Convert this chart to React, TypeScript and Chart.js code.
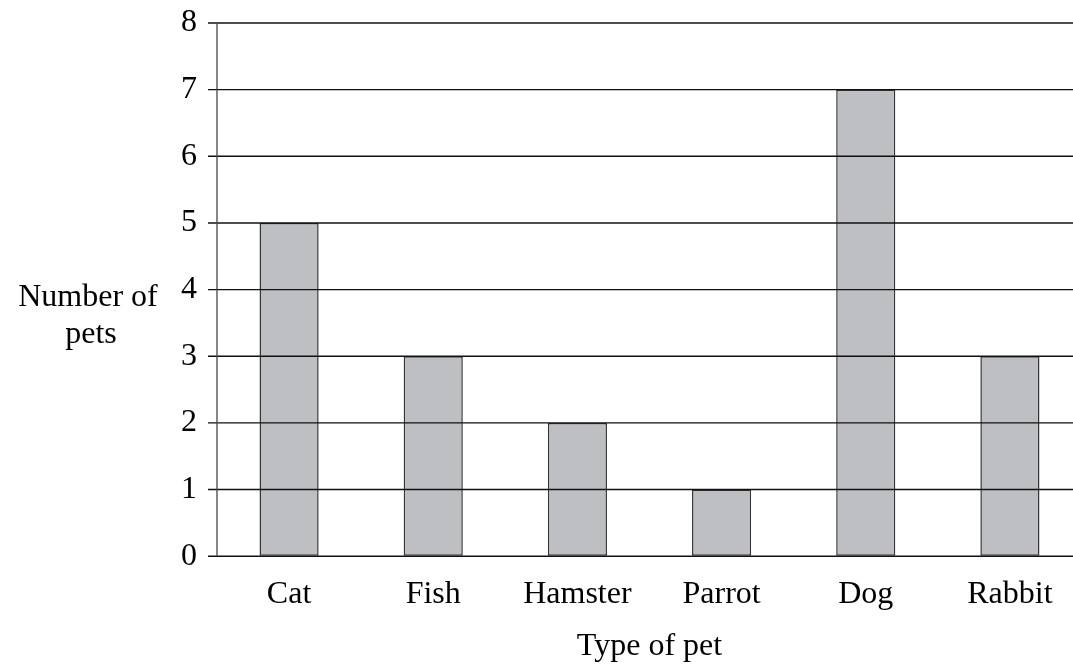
import React, { useEffect, useRef } from "react";
import { Chart, registerables } from "chart.js";

Chart.register(...registerables);

const categories = ["Cat", "Fish", "Hamster", "Parrot", "Dog", "Rabbit"];
const petCounts = [5, 3, 2, 1, 7, 3];
const yTickValues = [0, 1, 2, 3, 4, 5, 6, 7, 8];
const yTitleLines = ["Number of", "pets"];
const xTitle = "Type of pet";

const FONT = "'Liberation Serif', 'Times New Roman', serif";

const yTitlePlugin = {
  id: "yTitleLeft",
  afterDraw(chart: any) {
    const { ctx, chartArea } = chart;
    const y = chart.scales.y;
    ctx.save();
    ctx.font = `32px ${FONT}`;
    ctx.fillStyle = "#000";
    ctx.textAlign = "center";
    ctx.textBaseline = "alphabetic";
    const cx = chartArea.left - 129;
    const base = y.getPixelForValue(4);
    ctx.fillText(yTitleLines[0], cx, base + 16);
    ctx.fillText(yTitleLines[1], cx + 3, base + 53);
    ctx.restore();
  },
};

// Gridlines (with outside ticks) drawn over the bars, from the y scale's own ticks
const gridOverPlugin = {
  id: "gridOver",
  afterDatasetsDraw(chart: any) {
    const { ctx, chartArea } = chart;
    const y = chart.scales.y;
    ctx.save();
    ctx.strokeStyle = "#111";
    ctx.lineWidth = 1.4;
    y.ticks.forEach((_t: any, i: number) => {
      const py = y.getPixelForTick(i);
      ctx.beginPath();
      ctx.moveTo(chartArea.left - 9, py);
      ctx.lineTo(chartArea.right, py);
      ctx.stroke();
    });
    ctx.strokeStyle = "#444";
    ctx.lineWidth = 1.3;
    ctx.beginPath();
    ctx.moveTo(chartArea.left, chartArea.top);
    ctx.lineTo(chartArea.left, chartArea.bottom);
    ctx.stroke();
    ctx.restore();
  },
};

export default function App() {
  const ref = useRef<HTMLCanvasElement | null>(null);
  useEffect(() => {
    if (!ref.current) return;
    const chart = new Chart(ref.current, {
      type: "bar",
      data: {
        labels: categories,
        datasets: [
          {
            data: petCounts,
            backgroundColor: "#bebfc3",
            borderColor: "#333",
            borderWidth: 1.5,
            borderSkipped: false,
            categoryPercentage: 1,
            barPercentage: 0.41,
          },
        ],
      },
      options: {
        responsive: false,
        animation: false,
        devicePixelRatio: 1,
        layout: { padding: { left: 170, right: 8, top: 0, bottom: 0 } },
        plugins: {
          legend: { display: false },
          tooltip: { enabled: false },
          title: { display: false },
        },
        scales: {
          x: {
            grid: { display: false, drawTicks: false },
            border: { display: false },
            ticks: {
              padding: 19,
              color: "#000",
              font: { family: FONT, size: 32 },
              maxRotation: 0,
              autoSkip: false,
            },
            title: {
              display: true,
              text: xTitle,
              color: "#000",
              font: { family: FONT, size: 32 },
              padding: { top: -5, bottom: 2 },
            },
          },
          y: {
            min: 0,
            max: 8,
            afterBuildTicks: (scale: any) => {
              scale.ticks = yTickValues.map((v) => ({ value: v }));
            },
            grid: {
              display: true,
              color: "rgba(0,0,0,0)",
              drawTicks: true,
              tickLength: 9,
              tickColor: "rgba(0,0,0,0)",
            },
            border: { display: false },
            ticks: {
              padding: 11,
              color: "#000",
              font: { family: FONT, size: 32, lineHeight: 0.75 },
              stepSize: 1,
            },
          },
        },
      },
      plugins: [yTitlePlugin, gridOverPlugin],
    });
    return () => chart.destroy();
  }, []);
  return (
    <div
      style={{
        position: "absolute",
        left: 0,
        top: 0,
        width: 1073,
        height: 668,
        overflow: "hidden",
        background: "#fff",
      }}
    >
      <canvas ref={ref} width={1090} height={668} style={{ display: "block", width: 1090, height: 668 }} />
    </div>
  );
}
